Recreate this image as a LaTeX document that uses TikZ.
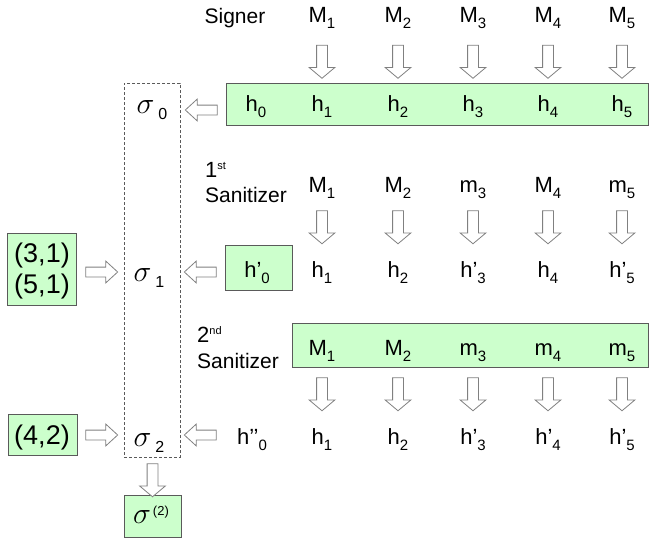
\documentclass[tikz,border=0pt]{standalone}
\usepackage{fontspec}
\setmainfont{Liberation Sans}
\usetikzlibrary{shapes.arrows}

\definecolor{lgreen}{RGB}{204,255,204}
\definecolor{boxline}{RGB}{90,90,90}
\definecolor{arrline}{RGB}{128,128,128}

% small lowered / raised indices
\newcommand{\low}[1]{\raisebox{-6pt}{\fontsize{15}{15}\selectfont #1}}
\newcommand{\bigsig}{\scalebox{1.45}{$\sigma$}}
\newcommand{\sg}[1]{\bigsig\hspace{4pt}\raisebox{-6pt}{\fontsize{16}{16}\selectfont #1}}

\begin{document}
\begin{tikzpicture}[x=1pt,y=-1pt]
\tikzstyle{lbl} = [anchor=base,inner sep=0pt,font=\fontsize{22}{26}\selectfont]
\tikzstyle{pair} = [lbl,font=\fontsize{27}{30}\selectfont]
\tikzstyle{hbox} = [draw=boxline,fill=lgreen,line width=0.8pt,inner sep=0pt]
\tikzstyle{blk} = [single arrow,draw=arrline,fill=white,line width=0.8pt,inner sep=5pt,single arrow head extend=7.5pt,single arrow tip angle=100,minimum height=33pt]
\tikzstyle{darr} = [blk,shape border rotate=270]
\tikzstyle{larr} = [blk,inner sep=4.5pt,single arrow head extend=6pt,single arrow tip angle=85,minimum height=32pt,shape border rotate=180]
\tikzstyle{rarr} = [larr,shape border rotate=0]

\useasboundingbox (0,0) rectangle (649,541);

% green boxes
\node[hbox,minimum width=422pt,minimum height=42pt] (row1) at (437,104) {};
\node[hbox,minimum width=67pt,minimum height=45pt] (row2) at (258.5,267.5) {};
\node[hbox,minimum width=356pt,minimum height=44pt] (row3) at (470,345) {};
\node[hbox,minimum width=69pt,minimum height=72pt] (in1) at (42,269.5) {};
\node[hbox,minimum width=69pt,minimum height=41pt] (in2) at (42.5,435) {};
\node[hbox,minimum width=57pt,minimum height=42pt] (out) at (153,516) {};

% dashed signature column
\node[draw=boxline,dash pattern=on 3pt off 2pt,line width=0.8pt,minimum width=56pt,minimum height=374pt] (sig) at (152,270) {};

% row titles
\node[lbl,font=\fontsize{21}{25}\selectfont] (signer) at (235,23) {Signer};
\node[lbl,anchor=base west] (san1a) at (205,177) {1\raisebox{8pt}{\fontsize{11}{11}\selectfont st}};
\node[lbl,anchor=base west,font=\fontsize{21}{25}\selectfont] (san1b) at (205,202) {Sanitizer};
\node[lbl,anchor=base west] (san2a) at (197,342) {2\raisebox{8pt}{\fontsize{11}{11}\selectfont nd}};
\node[lbl,anchor=base west,font=\fontsize{21}{25}\selectfont] (san2b) at (197,368) {Sanitizer};

% messages and hashes, one column each
\foreach \i/\x/\ma/\hb/\mc/\hd in {1/322/M/h/M/h, 2/398/M/h/M/h, 3/473/m/h’/m/h’, 4/548/M/h/m/h’, 5/622/m/h’/m/h’}{
  \node[lbl] (m\i) at (\x,22) {M\low{\i}};
  \node[darr] (a\i) at (\x,59.5) {};
  \node[lbl] (h\i) at (\x,111) {h\low{\i}};
  \node[lbl] (mm\i) at (\x,192) {\ma\low{\i}};
  \node[darr] (b\i) at (\x,225) {};
  \node[lbl] (hh\i) at (\x,277) {\hb\low{\i}};
  \node[lbl] (mmm\i) at (\x,355) {\mc\low{\i}};
  \node[darr] (c\i) at (\x,392) {};
  \node[lbl] (hhh\i) at (\x,444) {\hd\low{\i}};
}

\node[lbl] (h0) at (256,111) {h\low{0}};
\node[lbl] (hh0) at (257,277) {h’\low{0}};
\node[lbl] (hhh0) at (252,444) {h’’\low{0}};

% signatures
\node[lbl] (s0) at (152,113) {\sg{0}};
\node[lbl] (s1) at (149,281) {\sg{1}};
\node[lbl] (s2) at (149,446) {\sg{2}};
\node[lbl] (s3) at (151,523) {\bigsig\hspace{2pt}\raisebox{8pt}{\fontsize{13}{13}\selectfont (2)}};

% positions
\node[pair] (p1) at (42,262) {(3,1)};
\node[pair] (p2) at (42,293) {(5,1)};
\node[pair] (p3) at (42,444) {(4,2)};

% block arrows
\node[larr] (l0) at (204,110) {};
\node[larr] (l1) at (203,272) {};
\node[larr] (l2) at (203,435) {};
\node[rarr] (r1) at (99,272) {};
\node[rarr] (r2) at (99,435) {};
\node[darr] (d0) at (152.5,478) {};
\end{tikzpicture}
\end{document}
